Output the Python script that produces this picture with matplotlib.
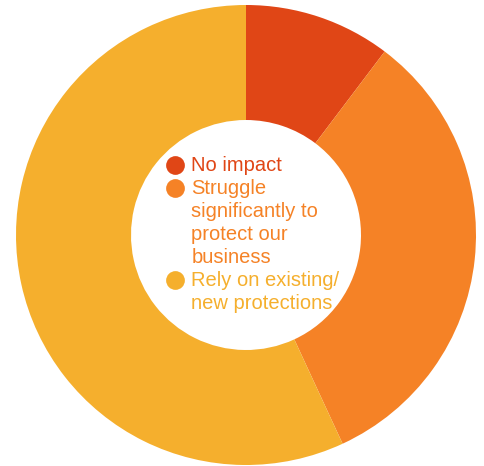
import matplotlib
matplotlib.use("Agg")
import matplotlib.pyplot as plt

labels = ["No impact",
          "Struggle\nsignificantly to\nprotect our\nbusiness",
          "Rely on existing/\nnew protections"]
values = [10.3, 32.8, 56.9]
colours = ["#E04616", "#F58226", "#F5AF2D"]

plt.rcParams["font.family"] = ["Liberation Sans", "DejaVu Sans"]

fig = plt.figure(figsize=(4.84, 4.66), dpi=100)
ax = fig.add_axes([16 / 484, 1 / 466, 460 / 484, 460 / 466])

ax.pie(values, colors=colours, startangle=90, counterclock=False, radius=1.0,
       wedgeprops=dict(width=0.5, edgecolor="none", linewidth=0))
ax.set_xlim(-1, 1)
ax.set_ylim(-1, 1)
ax.axis("off")

# legend in the hole
line_step = 0.1
y = 0.304
for lab, col in zip(labels, colours):
  ax.plot(-0.309, y, marker="o", markersize=13.5, color=col, markeredgewidth=0)
  for line in lab.split("\n"):
    ax.text(-0.238, y, line, color=col, fontsize=14.5, va="center", ha="left")
    y -= line_step

fig.savefig("out.png", dpi=100)
